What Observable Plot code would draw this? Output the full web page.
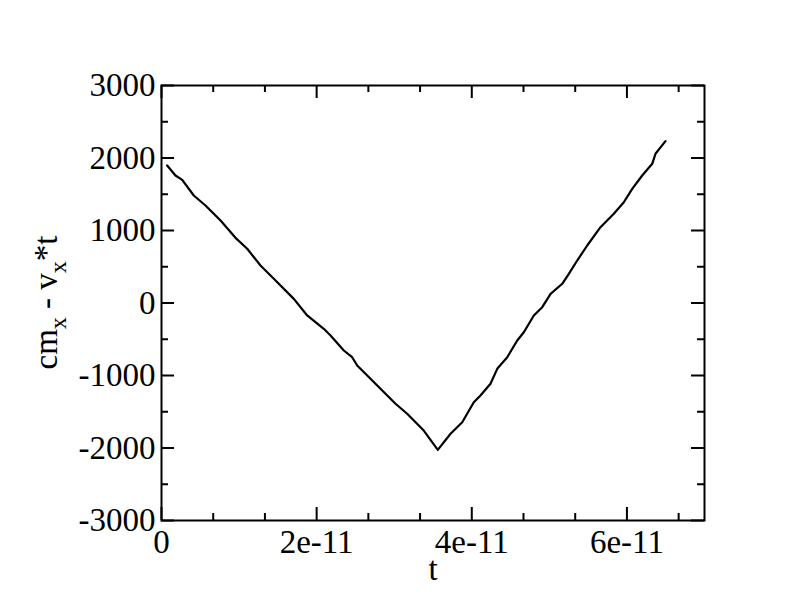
<!DOCTYPE html>
<html>
<head>
<meta charset="utf-8">
<script src="https://cdn.jsdelivr.net/npm/d3@7"></script>
<script src="https://cdn.jsdelivr.net/npm/@observablehq/plot@0.6"></script>
<style>
  html, body { margin: 0; padding: 0; background: white; }
</style>
</head>
<body>
<div id="chart"></div>
<script>
// Data (t in seconds, value = cm_x - v_x*t)
const tValues = [0.073e-11, 0.180e-11, 0.267e-11, 0.416e-11, 0.567e-11, 0.761e-11, 0.954e-11, 1.105e-11,
  1.276e-11, 1.448e-11, 1.706e-11, 1.878e-11, 2.092e-11, 2.179e-11, 2.350e-11, 2.458e-11, 2.523e-11,
  2.694e-11, 2.823e-11, 3.017e-11, 3.167e-11, 3.381e-11, 3.562e-11, 3.726e-11, 3.877e-11, 4.026e-11,
  4.112e-11, 4.241e-11, 4.328e-11, 4.457e-11, 4.586e-11, 4.671e-11, 4.800e-11, 4.908e-11, 5.016e-11,
  5.166e-11, 5.251e-11, 5.359e-11, 5.488e-11, 5.659e-11, 5.831e-11, 5.960e-11, 6.068e-11, 6.197e-11,
  6.326e-11, 6.368e-11, 6.497e-11];
const cmValues = [1897, 1759, 1699, 1483, 1345, 1138, 899, 748,
  517, 334, 57, -172, -356, -448, -655, -748, -862,
  -1046, -1183, -1390, -1528, -1759, -2025, -1804, -1644, -1368,
  -1276, -1114, -908, -748, -517, -403, -172, -58, 127,
  265, 403, 586, 793, 1046, 1230, 1390, 1575, 1759,
  1920, 2058, 2232];

const xTickValues = [0, 2e-11, 4e-11, 6e-11];
const xTickLabels = ["0", "2e-11", "4e-11", "6e-11"];
const xMinorTicks = [0.6667e-11, 1.3333e-11, 2.6667e-11, 3.3333e-11, 4.6667e-11, 5.3333e-11, 6.6667e-11];
const yTickValues = [-3000, -2000, -1000, 0, 1000, 2000, 3000];
const yTickLabels = ["-3000", "-2000", "-1000", "0", "1000", "2000", "3000"];
const yMinorTicks = [-2500, -1500, -500, 500, 1500, 2500];
const xDomain = [0, 7e-11];
const yDomain = [-3000, 3000];
const xLabel = "t";

const data = tValues.map((t, i) => ({t, v: cmValues[i]}));

const W = 792, H = 612;
const mL = 161, mR = 88, mT = 85, mB = 92;
const pw = W - mL - mR, ph = H - mT - mB;
const MAJ = 13, MIN = 7;
const font = '"Liberation Serif", "Times New Roman", Times, "Nimbus Roman", "Nimbus Roman No9 L", FreeSerif, Tinos, "Noto Serif", "DejaVu Serif", serif';

const svg = Plot.plot({
  width: W, height: H,
  marginLeft: mL, marginRight: mR, marginTop: mT, marginBottom: mB,
  style: `font-family: ${font}; font-size: 33px; background: white; color: black;`,
  x: {domain: xDomain},
  y: {domain: yDomain},
  marks: [
    Plot.axisX({ticks: xTickValues, tickSize: 0, tickPadding: 9, label: null,
      tickFormat: d => xTickLabels[xTickValues.indexOf(d)], fontSize: 33}),
    Plot.axisY({ticks: yTickValues, tickSize: 0, tickPadding: 6, label: null,
      tickFormat: d => yTickLabels[yTickValues.indexOf(d)], fontSize: 33}),
    // inward ticks: bottom & top
    Plot.tickX(xTickValues, {x: d => d, insetTop: ph - MAJ, stroke: "black", strokeWidth: 2}),
    Plot.tickX(xTickValues, {x: d => d, insetBottom: ph - MAJ, stroke: "black", strokeWidth: 2}),
    Plot.tickX(xMinorTicks, {x: d => d, insetTop: ph - MIN, stroke: "black", strokeWidth: 2}),
    Plot.tickX(xMinorTicks, {x: d => d, insetBottom: ph - MIN, stroke: "black", strokeWidth: 2}),
    // inward ticks: left & right
    Plot.tickY(yTickValues, {y: d => d, insetRight: pw - MAJ, stroke: "black", strokeWidth: 2}),
    Plot.tickY(yTickValues, {y: d => d, insetLeft: pw - MAJ, stroke: "black", strokeWidth: 2}),
    Plot.tickY(yMinorTicks, {y: d => d, insetRight: pw - MIN, stroke: "black", strokeWidth: 2}),
    Plot.tickY(yMinorTicks, {y: d => d, insetLeft: pw - MIN, stroke: "black", strokeWidth: 2}),
    Plot.line(data, {x: "t", y: "v", stroke: "black", strokeWidth: 2.2}),
    Plot.frame({stroke: "black", strokeWidth: 2}),
    Plot.text([xLabel], {frameAnchor: "bottom", dy: 59, text: d => d, fontSize: 33, fill: "black", lineAnchor: "bottom"})
  ]
});

// Y axis label with subscripts
const ylab = d3.select(svg).append("text")
  .attr("transform", `translate(57, ${mT + ph / 2}) rotate(-90)`)
  .attr("text-anchor", "middle")
  .style("font-family", font)
  .attr("font-size", 33)
  .attr("fill", "black");
ylab.append("tspan").text("cm");
ylab.append("tspan").attr("font-size", 24).attr("dy", 9).text("x");
ylab.append("tspan").attr("dy", -9).text(" - v");
ylab.append("tspan").attr("font-size", 24).attr("dy", 9).text("x");
ylab.append("tspan").attr("dy", -9).text("*t");

document.getElementById("chart").appendChild(svg);
</script>
</body>
</html>
